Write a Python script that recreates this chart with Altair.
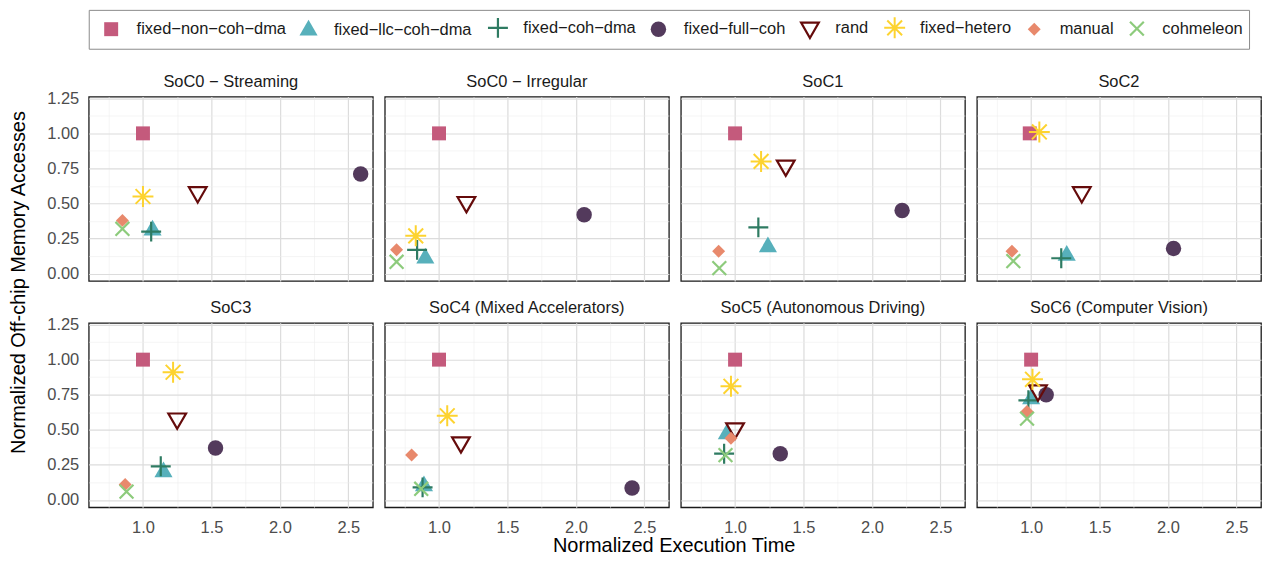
import altair as alt
import pandas as pd

socs = ["SoC0 − Streaming", "SoC0 − Irregular", "SoC1", "SoC2",
        "SoC3", "SoC4 (Mixed Accelerators)", "SoC5 (Autonomous Driving)",
        "SoC6 (Computer Vision)"]

methods = ["fixed−non−coh−dma", "fixed−llc−coh−dma", "fixed−coh−dma",
           "fixed−full−coh", "rand", "fixed−hetero", "manual", "cohmeleon"]

# normalized execution time (x) and off-chip memory accesses (y), per SoC
x_non_coh = [1.00, 1.00, 1.00, 0.99, 1.00, 1.00, 1.00, 1.00]
y_non_coh = [1.00, 1.00, 1.00, 1.00, 1.00, 1.00, 1.00, 1.00]
x_llc = [1.07, 0.90, 1.24, 1.26, 1.15, 0.89, 0.94, 1.00]
y_llc = [0.31, 0.11, 0.19, 0.13, 0.20, 0.10, 0.47, 0.72]
x_coh = [1.06, 0.84, 1.17, 1.22, 1.13, 0.88, 0.92, 0.98]
y_coh = [0.30, 0.17, 0.33, 0.11, 0.24, 0.09, 0.33, 0.71]
x_full = [2.59, 2.06, 2.22, 2.04, 1.53, 2.41, 1.33, 1.11]
y_full = [0.71, 0.42, 0.45, 0.18, 0.37, 0.085, 0.33, 0.75]
x_rand = [1.40, 1.20, 1.37, 1.37, 1.25, 1.16, 1.00, 1.05]
y_rand = [0.58, 0.51, 0.77, 0.58, 0.58, 0.41, 0.51, 0.78]
x_hetero = [1.00, 0.83, 1.19, 1.06, 1.22, 1.06, 0.97, 1.01]
y_hetero = [0.55, 0.27, 0.80, 1.01, 0.91, 0.60, 0.81, 0.86]
x_manual = [0.85, 0.69, 0.88, 0.86, 0.87, 0.80, 0.97, 0.97]
y_manual = [0.38, 0.17, 0.16, 0.16, 0.11, 0.32, 0.44, 0.63]
x_cohm = [0.85, 0.69, 0.885, 0.87, 0.88, 0.87, 0.93, 0.97]
y_cohm = [0.32, 0.085, 0.04, 0.09, 0.06, 0.08, 0.32, 0.58]

xs = [x_non_coh, x_llc, x_coh, x_full, x_rand, x_hetero, x_manual, x_cohm]
ys = [y_non_coh, y_llc, y_coh, y_full, y_rand, y_hetero, y_manual, y_cohm]

rows = []
for si, soc in enumerate(socs):
    for mi, m in enumerate(methods):
        rows.append({"soc": soc, "method": m, "order": mi,
                     "exec": xs[mi][si], "mem": ys[mi][si]})
df = pd.DataFrame(rows)

colors = ["#C45A7C", "#57B0BB", "#2E7B62", "#533A5C", "#650B0B",
          "#FDD330", "#E8896C", "#8DCB7C"]
fills = ["#C45A7C", "#57B0BB", "transparent", "#533A5C", "transparent",
         "transparent", "#E8896C", "transparent"]
shapes = [
    "M-1,-1L1,-1L1,1L-1,1Z",
    "M0,-1L0.866,0.5L-0.866,0.5Z",
    "M-1,0L1,0M0,-1L0,1",
    "circle",
    "M0,1L0.866,-0.5L-0.866,-0.5Z",
    "M-1,0L1,0M0,-1L0,1M-0.707,-0.707L0.707,0.707M-0.707,0.707L0.707,-0.707",
    "M0,-1L1,0L0,1L-1,0Z",
    "M-0.8,-0.8L0.8,0.8M-0.8,0.8L0.8,-0.8",
]
sizes = [196, 440, 400, 240, 420, 440, 169, 300]
widths = [0.01, 0.01, 2.2, 0.01, 2.2, 2.0, 0.01, 2.2]

font = "Liberation Sans"
major_x = "abs(datum.value*2 - round(datum.value*2)) < 0.001"
major_y = "abs(datum.value*4 - round(datum.value*4)) < 0.001"

leg = alt.Legend(title=" ", titleOrient="left", titleFontSize=16.5, titlePadding=5,
                 orient="top", direction="horizontal",
                 columns=8, labelFontSize=16.5, labelFont=font,
                 labelColor="#1A1A1A", strokeColor="#8C8C8C",
                 padding=6, offset=24, columnPadding=11, labelOffset=14,
                 labelLimit=300)

base = alt.Chart(df).mark_point(opacity=1).encode(
    x=alt.X("exec:Q", title=None,
            scale=alt.Scale(domain=[0.604, 2.679], nice=False, zero=False),
            axis=alt.Axis(values=[0.75, 1.0, 1.25, 1.5, 1.75, 2.0, 2.25, 2.5],
                          labelExpr=f"{major_x} ? format(datum.value, '.1f') : ''",
                          gridColor={"condition": {"test": major_x, "value": "#DCDCDC"}, "value": "#EFEFEF"},
                          gridWidth={"condition": {"test": major_x, "value": 1.2}, "value": 0.6},
                          ticks=False, domain=False, labelOverlap=False,
                          labelFlush=False, labelPadding=11)),
    y=alt.Y("mem:Q", title=None,
            scale=alt.Scale(domain=[-0.052, 1.262], nice=False, zero=False),
            axis=alt.Axis(values=[0, 0.125, 0.25, 0.375, 0.5, 0.625, 0.75,
                                  0.875, 1.0, 1.125, 1.25],
                          labelExpr=f"{major_y} ? format(datum.value, '.2f') : ''",
                          gridColor={"condition": {"test": major_y, "value": "#DCDCDC"}, "value": "#EFEFEF"},
                          gridWidth={"condition": {"test": major_y, "value": 1.2}, "value": 0.6},
                          ticks=False, domain=False, labelOverlap=False,
                          labelFlush=False, labelPadding=9)),
    shape=alt.Shape("method:N", scale=alt.Scale(domain=methods, range=shapes), legend=leg),
    fill=alt.Fill("method:N", scale=alt.Scale(domain=methods, range=fills), legend=leg),
    stroke=alt.Stroke("method:N", scale=alt.Scale(domain=methods, range=colors), legend=leg),
    size=alt.Size("method:N", scale=alt.Scale(type="ordinal", domain=methods, range=sizes), legend=leg),
    strokeWidth=alt.StrokeWidth("method:N", scale=alt.Scale(type="ordinal", domain=methods, range=widths), legend=leg),
    order=alt.Order("order:Q"),
).properties(width=285, height=185)

inner = base.facet(
    facet=alt.Facet("soc:N", sort=socs,
                    header=alt.Header(title=None, labelFontSize=16.5, labelFont=font,
                                      labelColor="#1A1A1A", labelPadding=6)),
    columns=4,
    spacing={"row": 17, "column": 10},
).properties(
    title=alt.TitleParams("Normalized Execution Time", orient="bottom", anchor="middle",
                          font=font, fontSize=20, fontWeight="normal",
                          color="#000000", offset=0, dx=20)
)

chart = alt.hconcat(inner).properties(
    title=alt.TitleParams("Normalized Off-chip Memory Accesses", orient="left",
                          anchor="middle", font=font, fontSize=20,
                          fontWeight="normal", color="#000000", offset=18),
    padding={"left": 0, "top": 0, "right": 0, "bottom": 0},
).configure_view(
    stroke="#1A1A1A", strokeWidth=1.3
).configure_axis(
    labelFont=font, labelFontSize=16.5, labelColor="#4D4D4D"
)

chart.save("out.html", embed_options={"renderer": "svg", "actions": False})
